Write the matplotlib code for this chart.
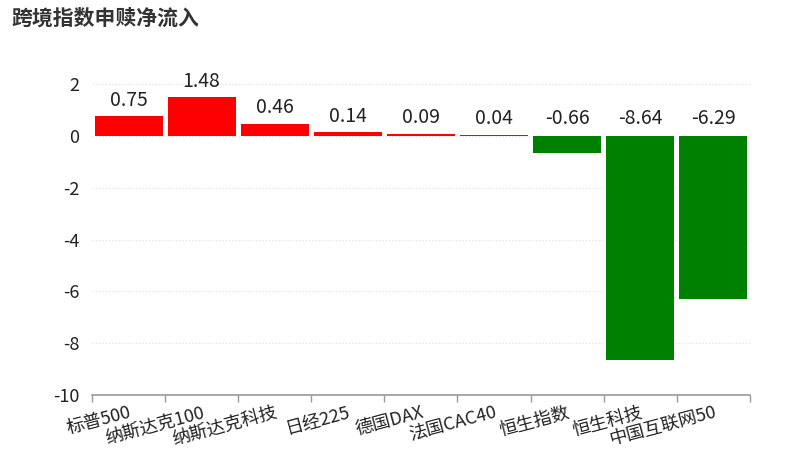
import matplotlib
matplotlib.use("Agg")
import matplotlib.pyplot as plt
import numpy as np

plt.rcParams['font.family'] = ['Noto Sans CJK SC', 'DejaVu Sans']

categories = ["标普500", "纳斯达克100", "纳斯达克科技", "日经225", "德国DAX",
              "法国CAC40", "恒生指数", "恒生科技", "中国互联网50"]
values = [0.75, 1.48, 0.46, 0.14, 0.09, 0.04, -0.66, -8.64, -6.29]
yticks = [2, 0, -2, -4, -6, -8, -10]
title = "跨境指数申赎净流入"

fig = plt.figure(figsize=(7.86, 4.59), dpi=100)
ax = fig.add_axes([0.117, 0.1394, 0.837, 0.6776])

x = np.arange(len(categories))
colors = ["#FF0000" if v >= 0 else "#008000" for v in values]
ax.bar(x, values, width=0.93, color=colors, zorder=3)

ax.set_xlim(-0.5, len(categories) - 0.5)
ax.set_ylim(-10, 2)
ax.set_yticks(yticks)
ax.set_yticklabels([str(t) for t in yticks], fontsize=13, color="#222222")
ax.tick_params(axis='y', length=0, pad=9)

ax.yaxis.grid(True, linestyle=(0, (1, 2)), color="#dddddd", linewidth=0.8, zorder=0)
ax.set_axisbelow(True)

ax.set_xticks(x)
ax.set_xticklabels(categories, rotation=15, ha='right', va='top',
                   rotation_mode='anchor', fontsize=13, color="#222222")
ax.tick_params(axis='x', length=0, pad=6)
ax.set_xticks(np.arange(-0.5, len(categories), 1.0), minor=True)
ax.tick_params(axis='x', which='minor', length=5, color="#999999", width=1)

for s in ['top', 'right', 'left']:
    ax.spines[s].set_visible(False)
ax.spines['bottom'].set_color("#999999")
ax.spines['bottom'].set_linewidth(1.2)

for xi, v in zip(x, values):
    ybase = v if v >= 0 else 0
    ax.annotate(f"{v:.2f}", xy=(xi, ybase), xytext=(0, 4 if v >= 0 else 5),
                textcoords='offset points', ha='center', va='bottom',
                fontsize=14, color="#222222", clip_on=False)

fig.text(0.014, 0.96, title, fontsize=15, fontweight='bold', color="#333333",
         ha='left', va='center')

fig.savefig("out.png", dpi=100)
